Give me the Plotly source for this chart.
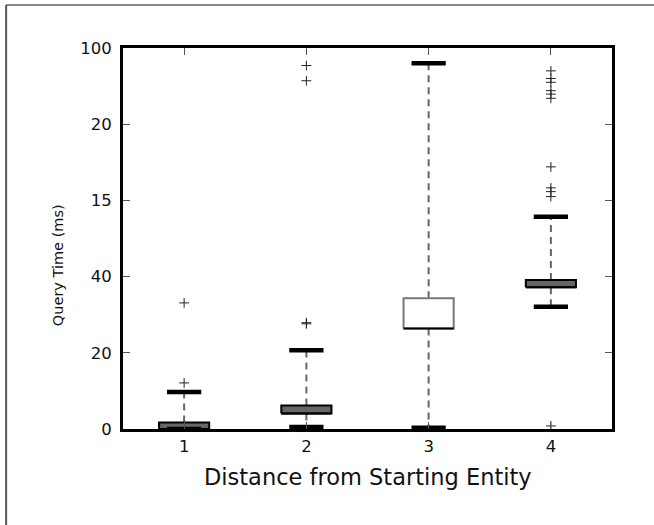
import plotly.graph_objects as go

categories = [1, 2, 3, 4]
q1 = [0.0, 4.1, 26.4, 37.2]
median = [0.0, 4.1, 26.4, 37.2]
q3 = [1.7, 6.2, 34.3, 39.1]
whisker_low = [0.0, 0.5, 0.35, 32.1]
whisker_high = [9.7, 20.7, 96.0, 55.7]
outliers = [
    [12.1, 33.1],
    [27.6, 27.9, 91.4, 95.4],
    [],
    [0.8, 61.0, 62.3, 63.3, 68.8, 86.8, 87.9, 88.8, 91.0, 92.0, 94.0],
]
box_fill = ["#666666", "#666666", "#ffffff", "#666666"]
box_line = ["#000000", "#000000", "#777777", "#000000"]

y_tickvals = [0, 20, 40, 60, 80, 100]
y_ticktext = ["0", "20", "40", "15", "20", "100"]
x_tickvals = [1, 2, 3, 4]
x_ticktext = ["1", "2", "3", "4"]

BOX_HALF = 0.205
CAP_HALF = 0.14
FONT = "DejaVu Sans"

fig = go.Figure()

for i, c in enumerate(categories):
    # whiskers (dashed)
    fig.add_trace(go.Scatter(
        x=[c, c, None, c, c],
        y=[q3[i], whisker_high[i], None, q1[i], whisker_low[i]],
        mode="lines", line=dict(color="#666666", width=2, dash="7px,5px"),
        hoverinfo="skip", showlegend=False))
    # box
    fig.add_trace(go.Scatter(
        x=[c - BOX_HALF, c + BOX_HALF, c + BOX_HALF, c - BOX_HALF, c - BOX_HALF],
        y=[q1[i], q1[i], q3[i], q3[i], q1[i]],
        mode="lines", fill="toself", fillcolor=box_fill[i],
        line=dict(color=box_line[i], width=2),
        hoverinfo="skip", showlegend=False))
    # median
    fig.add_trace(go.Scatter(
        x=[c - BOX_HALF, c + BOX_HALF], y=[median[i], median[i]],
        mode="lines", line=dict(color="#000000", width=2),
        hoverinfo="skip", showlegend=False))
    # caps
    fig.add_trace(go.Scatter(
        x=[c - CAP_HALF, c + CAP_HALF, None, c - CAP_HALF, c + CAP_HALF],
        y=[whisker_high[i], whisker_high[i], None, whisker_low[i], whisker_low[i]],
        mode="lines", line=dict(color="#000000", width=4.5),
        hoverinfo="skip", showlegend=False))
    # outliers
    if outliers[i]:
        fig.add_trace(go.Scatter(
            x=[c] * len(outliers[i]), y=outliers[i], mode="markers",
            marker=dict(symbol="cross-thin", size=7,
                        line=dict(color="#222222", width=1)),
            hoverinfo="skip", showlegend=False))

fig.update_layout(
    width=654, height=525,
    margin=dict(l=123, r=42, t=48, b=96),
    paper_bgcolor="white", plot_bgcolor="white",
    font=dict(family=FONT, color="#111111"),
    xaxis=dict(range=[0.5, 4.5], tickvals=x_tickvals, ticktext=x_ticktext,
               ticks="inside", ticklen=7, tickcolor="#555555", tickwidth=1,
               showline=True, linecolor="#000000", linewidth=3, mirror="ticks",
               showgrid=False, zeroline=False,
               tickfont=dict(family=FONT, size=16.5, color="#111111")),
    yaxis=dict(range=[0, 100], tickvals=y_tickvals, ticktext=y_ticktext,
               ticks="inside", ticklen=7, tickcolor="#555555", tickwidth=1,
               showline=True, linecolor="#000000", linewidth=3, mirror="ticks",
               showgrid=False, zeroline=False, ticklabelstandoff=5,
               tickfont=dict(family=FONT, size=16.5, color="#111111")),
    annotations=[
        dict(text="Distance from Starting Entity", xref="paper", yref="paper",
             x=0.5, y=-0.125, xanchor="center", yanchor="middle", showarrow=False,
             font=dict(family=FONT, size=22.5, color="#111111")),
        dict(text="Query Time (ms)", xref="paper", yref="paper",
             x=-0.133, y=0.43, xanchor="center", yanchor="middle", showarrow=False,
             textangle=-90, font=dict(family=FONT, size=14.5, color="#111111")),
    ],
    shapes=[
        dict(type="line", xref="paper", yref="paper", x0=-0.239, x1=1.1, y0=1.113, y1=1.113,
             line=dict(color="#888888", width=2)),
        dict(type="line", xref="paper", yref="paper", x0=-0.239, x1=-0.239, y0=1.113, y1=-0.3,
             line=dict(color="#555555", width=2)),
    ],
)

fig.write_html("out.html", config={"displayModeBar": False},
               post_script="document.body.style.margin='0';")
